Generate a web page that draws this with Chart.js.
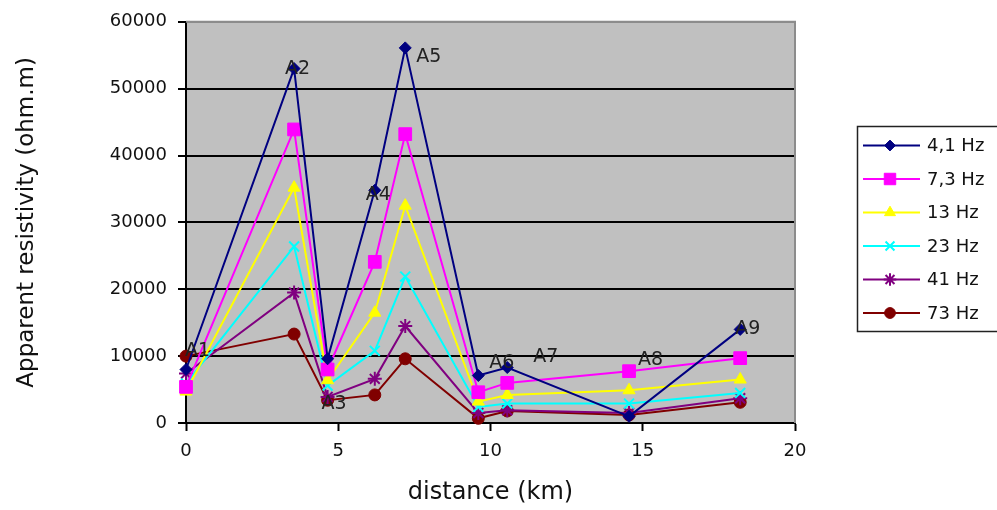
<!DOCTYPE html>
<html>
<head>
<meta charset="utf-8">
<script src="https://cdn.jsdelivr.net/npm/chart.js@4"></script>
<style>
  body { margin: 0; background: #fff; }
  canvas { display: block; }
</style>
</head>
<body>
<canvas id="resChart" width="997" height="510"></canvas>
<script>
// data
const distance = [0, 3.55, 4.65, 6.2, 7.2, 9.6, 10.55, 14.55, 18.2];
const siteNames = ['A1', 'A2', 'A3', 'A4', 'A5', 'A6', 'A7', 'A8', 'A9'];
const f4_1 = [8000, 53000, 9600, 34800, 56100, 7100, 8300, 1000, 14000];
const f7_3 = [5400, 43900, 8000, 24100, 43200, 4600, 6000, 7750, 9700];
const f13 = [4700, 35200, 6400, 16500, 32500, 3200, 4200, 4900, 6500];
const f23 = [5900, 26400, 5600, 10800, 21900, 2400, 2900, 2900, 4500];
const f41 = [7400, 19500, 3900, 6600, 14500, 1500, 1900, 1500, 3700];
const f73 = [10000, 13300, 3400, 4200, 9600, 700, 1800, 1200, 3100];
const xTicks = [0, 5, 10, 15, 20];
const yTicks = [0, 10000, 20000, 30000, 40000, 50000, 60000];

// label offsets from the 4,1 Hz points (px)
const labelOffsets = [[-1, -18], [-9, 0], [-6, 45], [-9, 5], [11, 9], [11, -12], [26, -10], [9, -56], [-5, 0]];

const FONT = 'DejaVu Sans';

const makeSet = (label, values, color, style, radius, bw) => ({
  label: label,
  data: values.map((v, i) => ({ x: distance[i], y: v })),
  showLine: true,
  clip: false,
  borderColor: color,
  backgroundColor: color,
  borderWidth: 2,
  pointStyle: style,
  pointRadius: radius,
  pointHoverRadius: radius,
  pointBorderWidth: bw,
  pointBorderColor: color,
  pointBackgroundColor: color
});

const datasets = [
  makeSet('4,1 Hz', f4_1, '#000080', 'rectRot', 6, 1),
  makeSet('7,3 Hz', f7_3, '#ff00ff', 'rect', 9, 1),
  makeSet('13 Hz', f13, '#ffff00', 'triangle', 7, 1),
  makeSet('23 Hz', f23, '#00ffff', 'crossRot', 7, 2),
  makeSet('41 Hz', f41, '#800080', 'star', 7, 2),
  makeSet('73 Hz', f73, '#800000', 'circle', 6, 1)
];

// grey plot background + top/right border
const plotFrame = {
  id: 'plotFrame',
  beforeDraw(chart) {
    const { ctx, chartArea: a } = chart;
    ctx.save();
    ctx.fillStyle = '#c0c0c0';
    ctx.fillRect(a.left, a.top, a.right - a.left, a.bottom - a.top);
    ctx.restore();
  },
  beforeDatasetsDraw(chart) {
    const { ctx, chartArea: a } = chart;
    ctx.save();
    ctx.strokeStyle = '#8c8c8c';
    ctx.lineWidth = 2;
    ctx.beginPath();
    ctx.moveTo(a.left, a.top);
    ctx.lineTo(a.right, a.top);
    ctx.lineTo(a.right, a.bottom);
    ctx.stroke();
    ctx.restore();
  }
};

// A1..A9 station labels
const siteLabels = {
  id: 'siteLabels',
  afterDatasetsDraw(chart) {
    const { ctx } = chart;
    const pts = chart.getDatasetMeta(0).data;
    ctx.save();
    ctx.font = '19px "' + FONT + '"';
    ctx.fillStyle = '#222';
    ctx.textAlign = 'left';
    ctx.textBaseline = 'middle';
    siteNames.forEach((name, i) => {
      const p = pts[i];
      ctx.fillText(name, p.x + labelOffsets[i][0], p.y + labelOffsets[i][1]);
    });
    ctx.restore();
  }
};

// boxed legend on the right
const boxLegend = {
  id: 'boxLegend',
  afterDraw(chart) {
    const { ctx } = chart;
    const left = 857, top = 126;
    ctx.save();
    ctx.fillStyle = '#fff';
    ctx.fillRect(left, top, 170, 205);
    ctx.strokeStyle = '#222';
    ctx.lineWidth = 1.5;
    ctx.strokeRect(left + 0.5, top + 0.5, 170, 205);
    ctx.font = '18px "' + FONT + '"';
    ctx.textAlign = 'left';
    ctx.textBaseline = 'middle';
    chart.data.datasets.forEach((ds, i) => {
      const y = top + 19.5 + i * 33.5;
      ctx.strokeStyle = ds.borderColor;
      ctx.lineWidth = 2;
      ctx.beginPath();
      ctx.moveTo(863, y);
      ctx.lineTo(920, y);
      ctx.stroke();
      ctx.fillStyle = ds.pointBackgroundColor;
      ctx.strokeStyle = ds.pointBorderColor;
      ctx.lineWidth = ds.pointBorderWidth;
      Chart.helpers.drawPoint(ctx, { pointStyle: ds.pointStyle, radius: ds.pointRadius * 0.9, rotation: 0, borderWidth: ds.pointBorderWidth }, 890, y);
      ctx.fillStyle = '#111';
      ctx.fillText(ds.label, 927, y + 1);
    });
    ctx.restore();
  }
};

new Chart(document.getElementById('resChart'), {
  type: 'scatter',
  data: { datasets: datasets },
  plugins: [plotFrame, siteLabels, boxLegend],
  options: {
    responsive: false,
    animation: false,
    layout: { padding: { top: 18, right: 202, left: 0, bottom: 0 } },
    plugins: {
      legend: { display: false },
      tooltip: { enabled: false }
    },
    scales: {
      x: {
        type: 'linear',
        min: 0,
        max: 20,
        afterFit: (s) => { s.height = 87; },
        afterBuildTicks: (s) => { s.ticks = xTicks.map(v => ({ value: v })); },
        grid: { drawOnChartArea: false, drawTicks: true, tickLength: 8, tickColor: '#000', tickWidth: 2 },
        border: { color: '#000', width: 2 },
        ticks: { padding: 10, color: '#111', font: { family: FONT, size: 18 } },
        title: {
          display: true,
          text: 'distance (km)',
          color: '#111',
          font: { family: FONT, size: 24 },
          padding: { top: 0, bottom: 3 }
        }
      },
      y: {
        min: 0,
        max: 60000,
        afterFit: (s) => { s.width = 186; },
        afterBuildTicks: (s) => { s.ticks = yTicks.map(v => ({ value: v })); },
        grid: {
          color: (c) => c.tick && c.tick.value === 60000 ? '#8c8c8c' : '#000',
          lineWidth: 2,
          tickLength: 8,
          tickColor: '#000',
          tickWidth: 2
        },
        border: { color: '#000', width: 2 },
        ticks: {
          padding: 11,
          color: '#111',
          font: { family: FONT, size: 18 },
          callback: (v) => String(v)
        },
        title: {
          display: true,
          text: 'Apparent resistivity (ohm.m)',
          color: '#111',
          font: { family: FONT, size: 23 },
          padding: { top: 13, bottom: 0 }
        }
      }
    }
  }
});
</script>
</body>
</html>
